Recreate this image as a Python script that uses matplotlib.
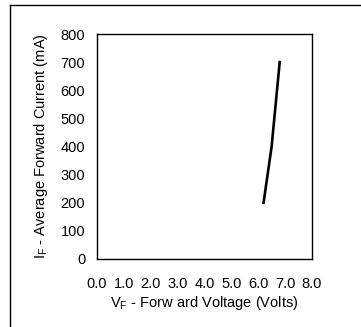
import matplotlib.pyplot as plt
from matplotlib.lines import Line2D
from matplotlib import rcParams

# forward voltage vs. average forward current
vf = [6.2, 6.35, 6.5, 6.6, 6.7, 6.8]
i_f = [200, 300, 400, 500, 600, 700]
x_ticks = [0, 1, 2, 3, 4, 5, 6, 7, 8]
y_ticks = [0, 100, 200, 300, 400, 500, 600, 700, 800]

rcParams["font.family"] = ["Liberation Sans", "DejaVu Sans"]
rcParams["font.size"] = 10.5
rcParams["mathtext.fontset"] = "custom"
rcParams["mathtext.rm"] = "Liberation Sans"

fig = plt.figure(figsize=(3.61, 3.27), dpi=100)
ax = fig.add_axes([0.269, 0.208, 0.595, 0.688])

ax.plot(vf, i_f, color="black", linewidth=1.9)

ax.set_xlim(0, 8)
ax.set_ylim(0, 800)
ax.set_xticks(x_ticks)
ax.set_xticklabels([f"{v:.1f}" for v in x_ticks])
ax.set_yticks(y_ticks)
ax.tick_params(length=0)
ax.tick_params(axis="y", pad=8.5)
ax.tick_params(axis="x", pad=13)
for s in ax.spines.values():
    s.set_linewidth(1.0)

ax.set_xlabel(r"V$_\mathregular{F}$ - Forw ard Voltage (Volts)", labelpad=2)
ax.set_ylabel(r"I$_\mathregular{F}$ - Average Forward Current (mA)", labelpad=8)

# outer frame (left and top edges only)
fig.add_artist(Line2D([10 / 361, 10 / 361], [0, 1 - 5 / 327], color="black", linewidth=1.0))
fig.add_artist(Line2D([10 / 361, 1], [1 - 5 / 327, 1 - 5 / 327], color="black", linewidth=1.0))

plt.savefig("out.png", dpi=100)
